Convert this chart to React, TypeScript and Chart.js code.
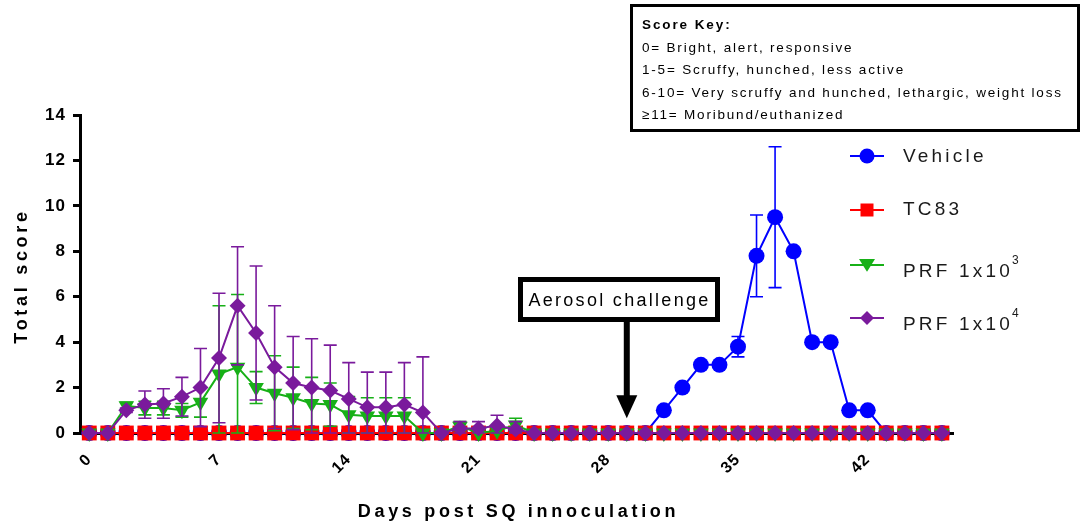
import React, { useEffect, useRef } from "react";
import { Chart, registerables } from "chart.js";

Chart.register(...registerables);

// ---------- data ----------
const days = [
  0, 1, 2, 3, 4, 5, 6, 7, 8, 9, 10, 11, 12, 13, 14, 15, 16, 17, 18, 19, 20, 21, 22, 23,
  24, 25, 26, 27, 28, 29, 30, 31, 32, 33, 34, 35, 36, 37, 38, 39, 40, 41, 42, 43, 44, 45, 46,
];
const xTickDays = [0, 7, 14, 21, 28, 35, 42];
const yTickStep = 2;

const seriesNames = ["Vehicle", "TC83", "PRF 1x10", "PRF 1x10"];
const seriesSup = ["", "", "3", "4"];

const vehicle = [
  0, 0, 0, 0, 0, 0, 0, 0, 0, 0, 0, 0, 0, 0, 0, 0, 0, 0, 0, 0, 0, 0, 0, 0,
  0, 0, 0, 0, 0, 0, 0, 1, 2, 3, 3, 3.8, 7.8, 9.5, 8, 4, 4, 1, 1, 0, 0, 0, 0,
];
const vehicleErr = [
  0, 0, 0, 0, 0, 0, 0, 0, 0, 0, 0, 0, 0, 0, 0, 0, 0, 0, 0, 0, 0, 0, 0, 0,
  0, 0, 0, 0, 0, 0, 0, 0, 0, 0, 0, 0.45, 1.8, 3.1, 0, 0, 0, 0, 0, 0, 0, 0, 0,
];
const tc83 = [
  0, 0, 0, 0, 0, 0, 0, 0, 0, 0, 0, 0, 0, 0, 0, 0, 0, 0, 0, 0, 0, 0, 0, 0,
  0, 0, 0, 0, 0, 0, 0, 0, 0, 0, 0, 0, 0, 0, 0, 0, 0, 0, 0, 0, 0, 0, 0,
];
const tc83Err = [
  0, 0, 0, 0, 0, 0, 0, 0, 0, 0, 0, 0, 0, 0, 0, 0, 0, 0, 0, 0, 0, 0, 0, 0,
  0, 0, 0, 0, 0, 0, 0, 0, 0, 0, 0, 0, 0, 0, 0, 0, 0, 0, 0, 0, 0, 0, 0,
];
const prf3 = [
  0, 0, 1.2, 1.1, 1.1, 1.0, 1.35, 2.6, 2.9, 2.0, 1.75, 1.55, 1.3, 1.25, 0.8, 0.75, 0.75, 0.75, 0, 0, 0.3, 0, 0.1, 0.35,
  0, 0, 0, 0, 0, 0, 0, 0, 0, 0, 0, 0, 0, 0, 0, 0, 0, 0, 0, 0, 0, 0, 0,
];
const prf3Err = [
  0, 0, 0.15, 0.3, 0.3, 0.3, 0.65, 3.0, 3.2, 0.7, 1.65, 1.35, 1.15, 0.95, 0.8, 0.8, 0.8, 0.8, 0, 0, 0.2, 0, 0.1, 0.3,
  0, 0, 0, 0, 0, 0, 0, 0, 0, 0, 0, 0, 0, 0, 0, 0, 0, 0, 0, 0, 0, 0, 0,
];
const prf4 = [
  0, 0, 1.0, 1.25, 1.3, 1.6, 2.0, 3.3, 5.6, 4.4, 2.9, 2.2, 2.0, 1.87, 1.5, 1.13, 1.13, 1.25, 0.9, 0, 0.2, 0.2, 0.33, 0.15,
  0, 0, 0, 0, 0, 0, 0, 0, 0, 0, 0, 0, 0, 0, 0, 0, 0, 0, 0, 0, 0, 0, 0,
];
const prf4Err = [
  0, 0, 0.1, 0.6, 0.65, 0.85, 1.72, 2.85, 2.6, 2.95, 2.7, 2.05, 2.15, 2.0, 1.6, 1.55, 1.55, 1.85, 2.45, 0, 0.3, 0.3, 0.45, 0.35,
  0, 0, 0, 0, 0, 0, 0, 0, 0, 0, 0, 0, 0, 0, 0, 0, 0, 0, 0, 0, 0, 0, 0,
];

const challengeDay = 29;
const scoreKeyTitle = "Score Key:";
const scoreKeyLines = [
  "0= Bright, alert, responsive",
  "1-5= Scruffy, hunched, less active",
  "6-10= Very scruffy and hunched, lethargic, weight loss",
  "\u226511= Moribund/euthanized",
];

// ---------- styles ----------
const FONT = '"Liberation Sans", Arial, Helvetica, sans-serif';
const colors = ["#0000FF", "#FF0000", "#17B017", "#7A1A9C"];
const pointStyles = ["circle", "rect", "triangle", "rectRot"];
const pointRadii = [8, 10.5, 9, 8];
const pointRotations = [0, 0, 180, 0];
const seriesVals = [vehicle, tc83, prf3, prf4];
const seriesErrs = [vehicleErr, tc83Err, prf3Err, prf4Err];

function drawMarker(ctx: CanvasRenderingContext2D, style: string, x: number, y: number, r: number, color: string) {
  ctx.save();
  ctx.fillStyle = color;
  ctx.beginPath();
  if (style === "circle") {
    ctx.arc(x, y, r, 0, Math.PI * 2);
  } else if (style === "rect") {
    ctx.rect(x - r, y - r, 2 * r, 2 * r);
  } else if (style === "triangle") {
    ctx.moveTo(x - r, y - r * 0.75);
    ctx.lineTo(x + r, y - r * 0.75);
    ctx.lineTo(x, y + r * 0.85);
    ctx.closePath();
  } else {
    ctx.moveTo(x - r, y);
    ctx.lineTo(x, y - r);
    ctx.lineTo(x + r, y);
    ctx.lineTo(x, y + r);
    ctx.closePath();
  }
  ctx.fill();
  ctx.restore();
}

const annotPlugin = {
  id: "annot",
  beforeDraw(chart: any) {
    chart.ctx.letterSpacing = "1px";
  },
  beforeDatasetDraw(chart: any, args: any) {
    const i = args.index;
    const errs = seriesErrs[i];
    const vals = seriesVals[i];
    const { ctx } = chart;
    const xs = chart.scales.x;
    const ys = chart.scales.y;
    ctx.save();
    ctx.strokeStyle = colors[i];
    ctx.lineWidth = 1.6;
    for (let j = 0; j < days.length; j++) {
      if (!errs[j]) continue;
      const px = xs.getPixelForValue(days[j]);
      const top = ys.getPixelForValue(vals[j] + errs[j]);
      const bot = ys.getPixelForValue(Math.max(0, vals[j] - errs[j]));
      ctx.beginPath();
      ctx.moveTo(px, top);
      ctx.lineTo(px, bot);
      ctx.moveTo(px - 6.5, top);
      ctx.lineTo(px + 6.5, top);
      ctx.moveTo(px - 6.5, bot);
      ctx.lineTo(px + 6.5, bot);
      ctx.stroke();
    }
    ctx.restore();
  },
  afterDraw(chart: any) {
    const { ctx, chartArea } = chart;
    const xs = chart.scales.x;
    const ys = chart.scales.y;
    ctx.save();

    // axis titles
    ctx.fillStyle = "#000";
    ctx.textBaseline = "middle";
    ctx.textAlign = "center";
    ctx.font = `bold 18px ${FONT}`;
    ctx.letterSpacing = "3.7px";
    ctx.fillText("Days post SQ innoculation", (chartArea.left + chartArea.right) / 2 + 2, 512);
    ctx.save();
    ctx.translate(22, (chartArea.top + chartArea.bottom) / 2 + 2);
    ctx.rotate(-Math.PI / 2);
    ctx.fillText("Total score", 0, 0);
    ctx.restore();

    // score key box
    ctx.lineWidth = 3;
    ctx.strokeStyle = "#000";
    ctx.strokeRect(631.5, 5.5, 447, 125);
    ctx.textAlign = "left";
    ctx.font = `bold 13.5px ${FONT}`;
    ctx.letterSpacing = "1.9px";
    ctx.fillText(scoreKeyTitle, 642, 25);
    ctx.font = `13.5px ${FONT}`;
    ctx.letterSpacing = "1.8px";
    scoreKeyLines.forEach((t, k) => ctx.fillText(t, 642, 48 + k * 22.5));

    // legend
    const legLineY = [156, 210, 265, 318];
    const legTextY = [157, 210, 272, 325];
    for (let i = 0; i < seriesNames.length; i++) {
      ctx.strokeStyle = colors[i];
      ctx.lineWidth = 2;
      ctx.beginPath();
      ctx.moveTo(850, legLineY[i]);
      ctx.lineTo(884, legLineY[i]);
      ctx.stroke();
      const r = [7.5, 6.5, 8, 7][i];
      drawMarker(ctx, pointStyles[i], 867, legLineY[i], r, colors[i]);
      ctx.fillStyle = "#1a1a1a";
      ctx.font = `19px ${FONT}`;
      ctx.letterSpacing = "3.2px";
      ctx.textAlign = "left";
      ctx.fillText(seriesNames[i], 903, legTextY[i]);
      if (seriesSup[i]) {
        const w = ctx.measureText(seriesNames[i]).width;
        ctx.font = `12px ${FONT}`;
        ctx.letterSpacing = "0px";
        ctx.fillText(seriesSup[i], 903 + w - 1, legTextY[i] - 11);
      }
    }

    // aerosol challenge box + arrow
    const ax = xs.getPixelForValue(challengeDay);
    ctx.strokeStyle = "#000";
    ctx.lineWidth = 5;
    ctx.strokeRect(520.5, 279.5, 197, 40);
    ctx.fillStyle = "#000";
    ctx.font = `18px ${FONT}`;
    ctx.letterSpacing = "2.3px";
    ctx.textAlign = "center";
    ctx.fillText("Aerosol challenge", 619.5, 301);
    ctx.fillRect(ax - 3, 322, 6, 76);
    const tipY = ys.getPixelForValue(0.65);
    ctx.beginPath();
    ctx.moveTo(ax - 10.5, tipY - 23);
    ctx.lineTo(ax + 10.5, tipY - 23);
    ctx.lineTo(ax, tipY);
    ctx.closePath();
    ctx.fill();

    ctx.letterSpacing = "0px";
    ctx.restore();
  },
};

export default function App() {
  const canvasRef = useRef<HTMLCanvasElement | null>(null);

  useEffect(() => {
    const canvas = canvasRef.current;
    if (!canvas) return;
    const datasets = seriesVals.map((vals, i) => ({
      label: seriesNames[i] + seriesSup[i],
      data: days.map((d, j) => ({ x: d, y: vals[j] })),
      borderColor: colors[i],
      backgroundColor: colors[i],
      borderWidth: 2,
      pointStyle: pointStyles[i],
      pointRadius: pointRadii[i],
      pointRotation: pointRotations[i],
      pointBorderWidth: 0,
      pointBackgroundColor: colors[i],
      pointBorderColor: colors[i],
      pointHoverRadius: pointRadii[i],
      tension: 0,
      clip: false as any,
      order: 3 - i,
    }));

    const chart = new Chart(canvas, {
      type: "line",
      data: { datasets },
      plugins: [annotPlugin],
      options: {
        animation: false,
        responsive: false,
        devicePixelRatio: 1,
        events: [],
        layout: { padding: { top: 115, right: 127, bottom: 0, left: 0 } },
        plugins: { legend: { display: false }, tooltip: { enabled: false } },
        scales: {
          x: {
            type: "linear",
            min: -0.5,
            max: 46.6,
            afterFit: (s: any) => {
              s.height = 92;
            },
            afterBuildTicks: (s: any) => {
              s.ticks = xTickDays.map((v) => ({ value: v }));
            },
            grid: {
              drawOnChartArea: false,
              drawTicks: true,
              tickLength: 4,
              tickWidth: 3,
              tickColor: "#000",
              color: "#000",
            },
            border: { display: true, color: "#000", width: 3 },
            ticks: {
              autoSkip: false,
              minRotation: 45,
              maxRotation: 45,
              padding: 13,
              color: "#000",
              font: { family: FONT, size: 16, weight: "bold" },
            },
            title: { display: false },
          },
          y: {
            min: 0,
            max: 14,
            afterFit: (s: any) => {
              s.width = 80;
            },
            grid: {
              drawOnChartArea: false,
              drawTicks: true,
              tickLength: 7,
              tickWidth: 3,
              tickColor: "#000",
              color: "#000",
            },
            border: { display: true, color: "#000", width: 3 },
            ticks: {
              stepSize: yTickStep,
              padding: 7,
              color: "#000",
              font: { family: FONT, size: 17, weight: "bold" },
            },
            title: { display: false },
          },
        },
      },
    } as any);
    return () => chart.destroy();
  }, []);

  return (
    <div style={{ position: "fixed", left: 0, top: 0, width: 1080, height: 525, background: "#fff" }}>
      <canvas ref={canvasRef} width={1080} height={525} style={{ display: "block" }} />
    </div>
  );
}
